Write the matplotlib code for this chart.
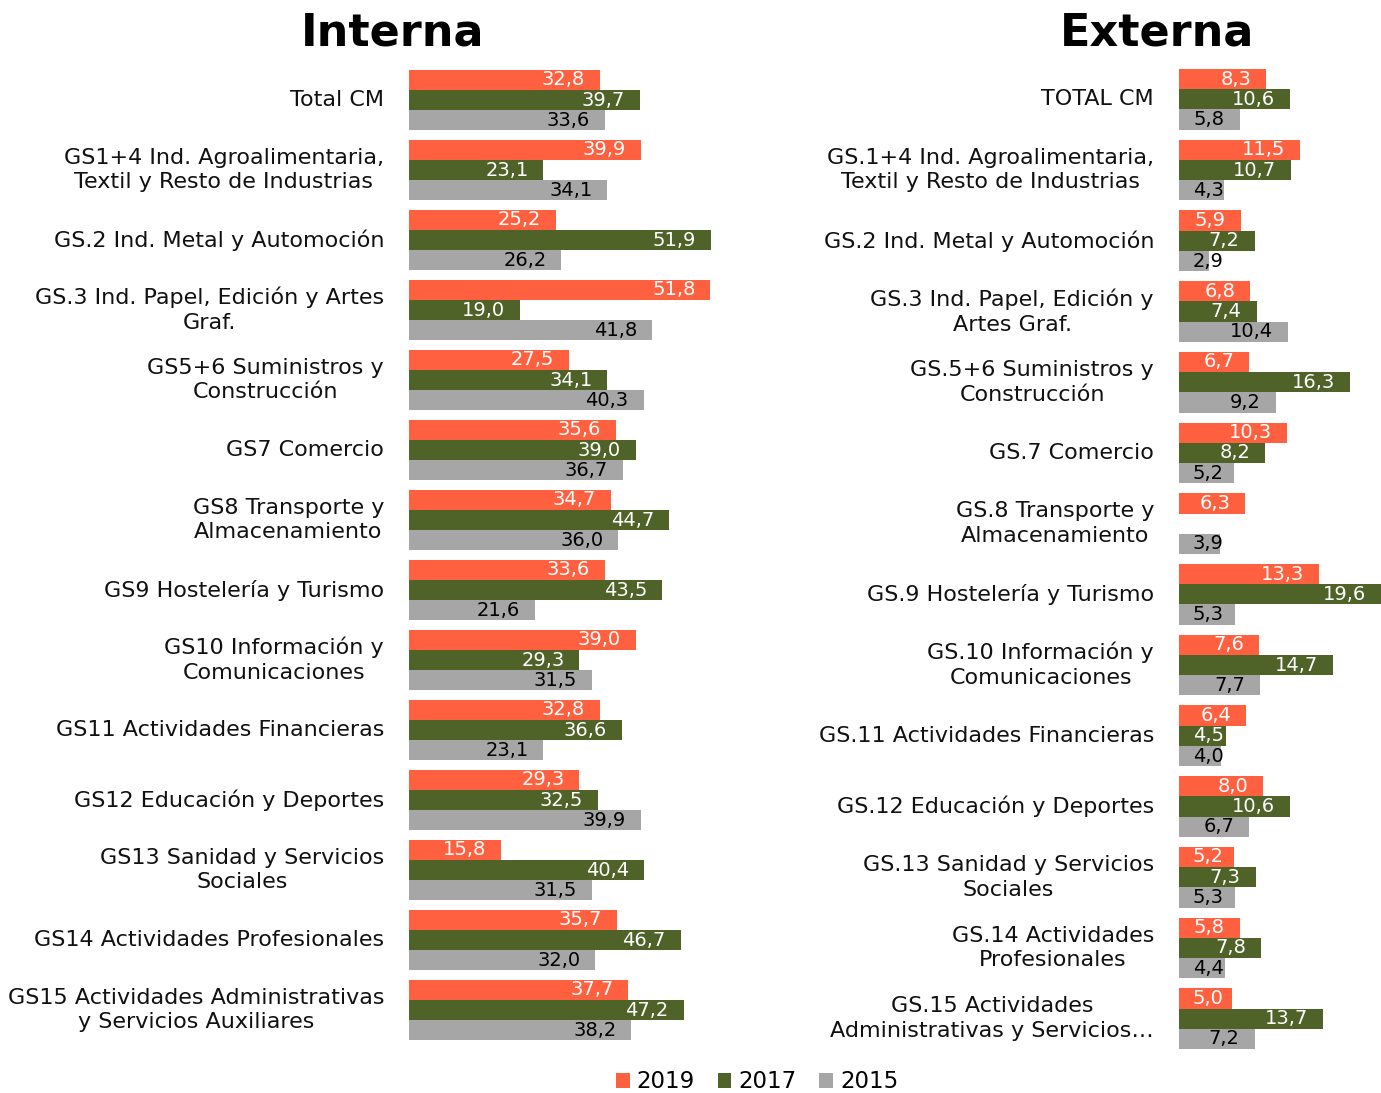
import numpy as np
import matplotlib
matplotlib.use("Agg")
import matplotlib.pyplot as plt
from matplotlib.patches import Patch
from matplotlib.transforms import blended_transform_factory, IdentityTransform

plt.rcParams['font.family'] = ['DejaVu Sans']

series = ['2019', '2017', '2015']
colors = ['#FF6040', '#4F6228', '#A6A6A6']
label_colors = ['white', 'white', 'black']

cats_int = [
    'Total CM',
    'GS1+4 Ind. Agroalimentaria,\nTextil y Resto de Industrias',
    'GS.2 Ind. Metal y Automoción',
    'GS.3 Ind. Papel, Edición y Artes\nGraf.',
    'GS5+6 Suministros y\nConstrucción',
    'GS7 Comercio',
    'GS8 Transporte y\nAlmacenamiento',
    'GS9 Hostelería y Turismo',
    'GS10 Información y\nComunicaciones',
    'GS11 Actividades Financieras',
    'GS12 Educación y Deportes',
    'GS13 Sanidad y Servicios\nSociales',
    'GS14 Actividades Profesionales',
    'GS15 Actividades Administrativas\ny Servicios Auxiliares',
]
int_2019 = [32.8, 39.9, 25.2, 51.8, 27.5, 35.6, 34.7, 33.6, 39.0, 32.8, 29.3, 15.8, 35.7, 37.7]
int_2017 = [39.7, 23.1, 51.9, 19.0, 34.1, 39.0, 44.7, 43.5, 29.3, 36.6, 32.5, 40.4, 46.7, 47.2]
int_2015 = [33.6, 34.1, 26.2, 41.8, 40.3, 36.7, 36.0, 21.6, 31.5, 23.1, 39.9, 31.5, 32.0, 38.2]

cats_ext = [
    'TOTAL CM',
    'GS.1+4 Ind. Agroalimentaria,\nTextil y Resto de Industrias',
    'GS.2 Ind. Metal y Automoción',
    'GS.3 Ind. Papel, Edición y\nArtes Graf.',
    'GS.5+6 Suministros y\nConstrucción',
    'GS.7 Comercio',
    'GS.8 Transporte y\nAlmacenamiento',
    'GS.9 Hostelería y Turismo',
    'GS.10 Información y\nComunicaciones',
    'GS.11 Actividades Financieras',
    'GS.12 Educación y Deportes',
    'GS.13 Sanidad y Servicios\nSociales',
    'GS.14 Actividades\nProfesionales',
    'GS.15 Actividades\nAdministrativas y Servicios…',
]
ext_2019 = [8.3, 11.5, 5.9, 6.8, 6.7, 10.3, 6.3, 13.3, 7.6, 6.4, 8.0, 5.2, 5.8, 5.0]
ext_2017 = [10.6, 10.7, 7.2, 7.4, 16.3, 8.2, np.nan, 19.6, 14.7, 4.5, 10.6, 7.3, 7.8, 13.7]
ext_2015 = [5.8, 4.3, 2.9, 10.4, 9.2, 5.2, 3.9, 5.3, 7.7, 4.0, 6.7, 5.3, 4.4, 7.2]

W, H = 1381, 1093
fig = plt.figure(figsize=(W / 100, H / 100), dpi=100)


def px_axes(x0, x1, ytop, ybot):
    return fig.add_axes([x0 / W, 1 - ybot / H, (x1 - x0) / W, (ybot - ytop) / H])


def draw_panel(ax, cats, data, xmax):
    n = len(cats)
    y = np.arange(n)
    h = 0.286
    offs = [-h, 0, h]
    bars = []
    for k in range(3):
        vals = np.array(data[k], dtype=float)
        ax.barh(y + offs[k], np.nan_to_num(vals), height=h, color=colors[k],
                edgecolor='none')
        bars.append(vals)
    ax.set_xlim(0, xmax)
    ax.set_ylim(n - 0.5, -0.5)
    ax.axis('off')
    for i, c in enumerate(cats):
        ax.annotate(c, xy=(0, i), xycoords='data', xytext=(-25, 0),
                    textcoords='offset pixels', ha='right', va='center',
                    multialignment='center', fontsize=16, color='#111111',
                    linespacing=1.3, annotation_clip=False)
    renderer = fig.canvas.get_renderer()
    x0 = ax.transData.transform((0, 0))[0]
    trans = blended_transform_factory(IdentityTransform(), ax.transData)
    for k in range(3):
        for i, v in enumerate(bars[k]):
            if np.isnan(v):
                continue
            lab = f"{v:.1f}".replace('.', ',')
            yy = i + offs[k]
            t = ax.text(0, yy, lab, ha='right', va='center', fontsize=14,
                        color=label_colors[k], clip_on=False)
            w = t.get_window_extent(renderer).width
            xend = ax.transData.transform((min(v, xmax), 0))[0]
            right = max(xend - 15, x0 + 14 + w)
            t.set_transform(trans)
            t.set_x(right)


ax1 = px_axes(409, 711, 65, 1045)
draw_panel(ax1, cats_int, [int_2019, int_2017, int_2015], 51.9)

ax2 = px_axes(1179, 1381, 64, 1054)
draw_panel(ax2, cats_ext, [ext_2019, ext_2017, ext_2015], 202 / 10.5)

fig.text(393 / W, 1 - 33 / H, 'Interna', fontsize=32, fontweight='bold',
         ha='center', va='center')
fig.text(1157 / W, 1 - 33 / H, 'Externa', fontsize=32, fontweight='bold',
         ha='center', va='center')

handles = [Patch(facecolor=colors[k], edgecolor='none', label=series[k]) for k in range(3)]
fig.legend(handles=handles, loc='center', bbox_to_anchor=(757 / W, 1 - 1082 / H),
           ncol=3, frameon=False, fontsize=16.5, handlelength=0.6, handleheight=0.6,
           handletextpad=0.3, columnspacing=1.0)

fig.savefig('out.png', dpi=100)
